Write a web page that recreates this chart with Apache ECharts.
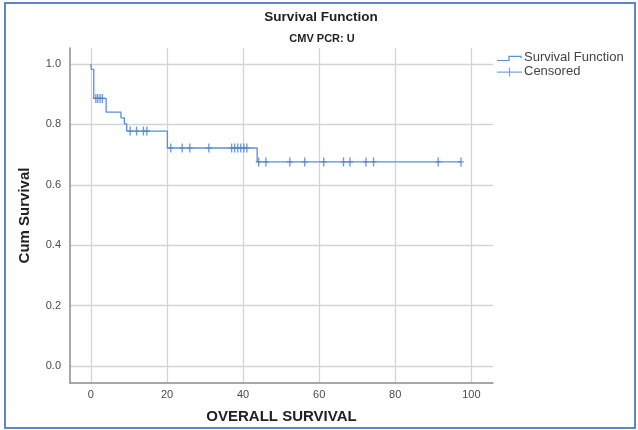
<!DOCTYPE html>
<html>
<head>
<meta charset="utf-8">
<script src="https://cdn.jsdelivr.net/npm/echarts@6/dist/echarts.min.js"></script>
<style>
  html, body { margin: 0; padding: 0; background: #ffffff; }
  #chart { width: 638px; height: 430px; }
</style>
</head>
<body>
<div id="chart"></div>
<script>
// Texts
const titleText = 'Survival Function';
const subtitleText = 'CMV PCR: U';
const xAxisTitle = 'OVERALL SURVIVAL';
const yAxisTitle = 'Cum Survival';
const lineName = 'Survival Function';
const censorName = 'Censored';

// Tick positions
const xTicks = [0, 20, 40, 60, 80, 100];
const yTicks = [0, 0.2, 0.4, 0.6, 0.8, 1.0];

// Kaplan-Meier step points (time, cumulative survival)
const survTimes  = [0,   0.1,   0.75,  4.0,   7.9,   8.8,   9.4,   20.1,  43.7,  97.3];
const survValues = [1.0, 0.982, 0.886, 0.841, 0.822, 0.802, 0.778, 0.722, 0.676, 0.676];

// Censored observations
const censorTimes  = [1.3, 1.8, 2.4, 3.0,
                      10.3, 12.0, 13.8, 14.7,
                      21.0, 24.0, 26.0, 31.0, 37.0, 37.8, 38.6, 39.4, 40.2, 41.0,
                      44.1, 46.0, 52.3, 56.2, 61.2, 66.4, 68.1, 72.3, 74.3, 91.3, 97.3];
const censorValues = [0.886, 0.886, 0.886, 0.886,
                      0.778, 0.778, 0.778, 0.778,
                      0.722, 0.722, 0.722, 0.722, 0.722, 0.722, 0.722, 0.722, 0.722, 0.722,
                      0.676, 0.676, 0.676, 0.676, 0.676, 0.676, 0.676, 0.676, 0.676, 0.676, 0.676];

const FONT = '"Liberation Sans", Arial, sans-serif';
const LINE_COLOR = '#5a8fd8';
const MARK_COLOR = '#4a80cc';

// Legend icons drawn in a 25x12 box (tiny corner squares fix the box extent)
const corners = 'M0,0h0.01v0.01h-0.01z M24.99,11.99h0.01v0.01h-0.01z ';
const stepIcon = 'path://' + corners +
  'M0,8.4h12.6v1.2h-12.6z M11.4,4.2h1.2v5.4h-1.2z M11.4,4.2h13.2v1.2h-13.2z M23.4,4.2h1.2v2.6h-1.2z';
const plusIcon = 'path://' + corners +
  'M0,6h25v1.2h-25z M11.9,2h1.2v9h-1.2z';
const censorSymbol = 'path://M2.4,0h1.4v9h-1.4z M0,3.9h6.2v1.2h-6.2z';

const chart = echarts.init(document.getElementById('chart'), null, { renderer: 'canvas' });

chart.setOption({
  backgroundColor: '#ffffff',
  animation: false,
  textStyle: { fontFamily: FONT },
  title: [
    {
      text: titleText, left: 316, top: 5, textAlign: 'center',
      textStyle: { fontFamily: FONT, fontSize: 13.5, fontWeight: 'bold', color: '#222' }
    },
    {
      text: subtitleText, left: 317, top: 28, textAlign: 'center',
      textStyle: { fontFamily: FONT, fontSize: 11, fontWeight: 'bold', color: '#222' }
    }
  ],
  legend: {
    orient: 'vertical',
    left: 492,
    top: 46,
    itemWidth: 25,
    itemHeight: 12,
    itemGap: 1,
    textStyle: { fontFamily: FONT, fontSize: 13, color: '#444', padding: [0, 0, 0, -3] },
    data: [
      { name: lineName, icon: stepIcon, itemStyle: { color: LINE_COLOR } },
      { name: censorName, icon: plusIcon, itemStyle: { color: LINE_COLOR } }
    ]
  },
  grid: { left: 70, top: 48, right: 145, bottom: 47, containLabel: false },
  xAxis: {
    type: 'value',
    min: -5.5,
    max: 105.7,
    name: xAxisTitle,
    nameLocation: 'middle',
    nameGap: 26,
    nameTextStyle: { fontFamily: FONT, fontSize: 15, fontWeight: 'bold', color: '#222', verticalAlign: 'top' },
    axisLine: { show: true, onZero: false, lineStyle: { color: '#8c8c8c', width: 1.5 } },
    axisTick: { show: false, customValues: xTicks },
    axisLabel: {
      customValues: xTicks, margin: 6,
      fontFamily: FONT, fontSize: 11, color: '#4a4a4a'
    },
    splitLine: { show: true, lineStyle: { color: '#d4d4d4', width: 1.3 } }
  },
  yAxis: {
    type: 'value',
    min: -0.056,
    max: 1.053,
    name: yAxisTitle,
    nameLocation: 'middle',
    nameGap: 38,
    nameTextStyle: { fontFamily: FONT, fontSize: 15, fontWeight: 'bold', color: '#222' },
    axisLine: { show: true, onZero: false, lineStyle: { color: '#8c8c8c', width: 1.5 } },
    axisTick: { show: false, customValues: yTicks },
    axisLabel: {
      customValues: yTicks, margin: 9,
      fontFamily: FONT, fontSize: 11, color: '#4a4a4a',
      formatter: v => v.toFixed(1)
    },
    splitLine: { show: true, lineStyle: { color: '#d4d4d4', width: 1.3 } }
  },
  series: [
    {
      name: lineName,
      type: 'line',
      step: 'end',
      symbol: 'none',
      lineStyle: { color: LINE_COLOR, width: 1.3 },
      itemStyle: { color: LINE_COLOR },
      data: survTimes.map((t, i) => [t, survValues[i]]),
      z: 3
    },
    {
      name: censorName,
      type: 'scatter',
      symbol: censorSymbol,
      symbolSize: [6, 9],
      itemStyle: { color: MARK_COLOR },
      data: censorTimes.map((t, i) => [t, censorValues[i]]),
      z: 4
    }
  ],
  graphic: [
    {
      type: 'rect',
      shape: { x: 5, y: 3, width: 630, height: 425 },
      style: { fill: 'none', stroke: '#5b86cc', lineWidth: 2 },
      silent: true,
      z: 100
    }
  ]
});
</script>
</body>
</html>
